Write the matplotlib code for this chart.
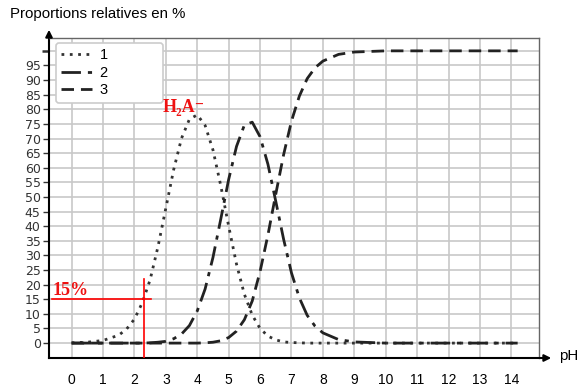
import matplotlib
matplotlib.use('Agg')
import matplotlib.pyplot as plt

plt.rcParams['font.family'] = 'Liberation Sans'

# values
ph = [0, 0.5, 1, 1.5, 1.75, 2, 2.25, 2.5, 2.75, 3, 3.25, 3.5, 3.75, 4,
      4.25, 4.5, 4.75, 5, 5.25, 5.5, 5.75, 6, 6.25, 6.5, 6.75, 7, 7.25,
      7.5, 7.75, 8, 8.5, 9, 10, 11, 12, 13, 14.2]
espece1 = [0.1, 0.3, 0.9, 2.7, 4.8, 8.2, 13.8, 21.7, 33.0, 46.2, 59.4, 70.1,
           76.6, 78.1, 74.5, 66.1, 53.8, 40.0, 27.0, 16.7, 9.6, 5.0, 2.4, 1.1,
           0.4, 0.2, 0.1, 0, 0, 0, 0, 0, 0, 0, 0, 0, 0]
espece2 = [0, 0, 0, 0, 0, 0, 0, 0.1, 0.3, 0.6, 1.5, 3.1, 6.0, 11.0, 18.5,
           29.3, 42.5, 56.0, 67.3, 74.6, 75.6, 70.6, 61.2, 48.5, 35.5, 24.0,
           15.5, 9.5, 5.8, 3.5, 1.2, 0.4, 0, 0, 0, 0, 0]
espece3 = [0, 0, 0, 0, 0, 0, 0, 0, 0, 0, 0, 0, 0, 0, 0.1, 0.3, 0.8, 1.9, 4.1,
           8.0, 14.4, 24.5, 37.0, 51.0, 64.5, 76.0, 84.5, 90.5, 94.2, 96.5,
           98.8, 99.6, 100, 100, 100, 100, 100]
xticks = list(range(0, 15))
yticks = list(range(0, 100, 5))

fig = plt.figure(figsize=(5.82, 3.9), dpi=100)
ax = fig.add_axes([49/582, 1-358/390, 490/582, 320/390])
ax.set_xlim(-0.72, 14.88)
ax.set_ylim(-5.1, 104.4)

# grid
for x in xticks:
    ax.axvline(x, color='#c8c8c8', lw=1.2, zorder=0)
for y in range(0, 101, 5):
    ax.axhline(y, color='#c8c8c8', lw=1.2, zorder=0)

ax.plot(ph, espece1, color='#333333', lw=2, ls=(0, (1, 2)), label='1')
ax.plot(ph, espece2, color='#222222', lw=2, ls=(0, (7, 2.5, 1.5, 2.5)), label='2')
ax.plot(ph, espece3, color='#222222', lw=2, ls=(0, (4.5, 2.5)), label='3')

ax.set_xticks(xticks)
ax.set_yticks(yticks)
ax.set_yticks([100], minor=True)
ax.tick_params(axis='x', length=0, pad=11, labelsize=10, labelcolor='black')
ax.tick_params(axis='y', which='major', length=4, width=1, color='#333333', pad=2)
ax.tick_params(axis='y', which='minor', length=5, width=1.8, color='#333333')
for lab in ax.get_yticklabels():
    lab.set_family('DejaVu Sans')
    lab.set_fontsize(9)
    lab.set_color('#333333')

for s in ['top', 'right']:
    ax.spines[s].set_color('#666666')
    ax.spines[s].set_linewidth(1)
for s in ['left', 'bottom']:
    ax.spines[s].set_color('black')
    ax.spines[s].set_linewidth(1.5)

# axis arrows
ax.annotate('', xy=(49/582, 1-27/390), xytext=(49/582, 1-40/390),
            xycoords='figure fraction',
            arrowprops=dict(arrowstyle='-|>', color='black', lw=1.5, mutation_scale=10))
ax.annotate('', xy=(554/582, 1-358/390), xytext=(537/582, 1-358/390),
            xycoords='figure fraction',
            arrowprops=dict(arrowstyle='-|>', color='black', lw=1.5, mutation_scale=10))

fig.text(10/582, 1-14/390, 'Proportions relatives en %', fontsize=10.8, va='center', ha='left')
fig.text(559/582, 1-356/390, 'pH', fontsize=10.8, va='center', ha='left')

leg = ax.legend(loc='upper left', bbox_to_anchor=(7/490, 315/320), borderaxespad=0,
                fontsize=10.5, handlelength=2.1, handletextpad=0.6, labelspacing=0.25,
                borderpad=0.35, frameon=True, fancybox=True)
leg.get_frame().set_edgecolor('#cccccc')
leg.get_frame().set_linewidth(1.2)
leg.get_frame().set_alpha(1)
for t in leg.get_texts():
    t.set_text(t.get_text() + '            ')

# red annotations
ax.plot([-0.64, 2.52], [15, 15], color='red', lw=1.2, zorder=5)
ax.plot([2.3, 2.3], [-5.1, 21.8], color='red', lw=1.2, zorder=5)
serif = ['Liberation Serif', 'DejaVu Serif']
ax.text(-0.62, 16.4, '15%', color='#ee1111', fontsize=13, weight='bold',
        family=serif, va='baseline')
ax.text(2.9, 79.2, 'H₂A⁻', color='#ee1111', fontsize=13, weight='bold',
        family=serif, va='baseline', zorder=6)

fig.savefig('out.png', dpi=100)
